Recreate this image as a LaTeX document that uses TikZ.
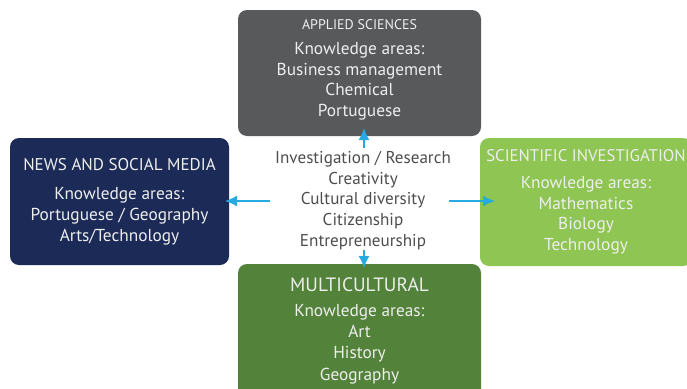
\documentclass[tikz,border=0pt]{standalone}
\usepackage{fontspec}
\setmainfont{PT Sans}
\usetikzlibrary{arrows.meta}
\definecolor{boxgray}{RGB}{88,89,91}
\definecolor{boxnavy}{RGB}{27,42,86}
\definecolor{boxlime}{RGB}{143,197,82}
\definecolor{boxgreen}{RGB}{83,130,58}
\definecolor{arrowblue}{RGB}{39,170,225}
\definecolor{hubtext}{RGB}{77,77,79}
\definecolor{boxtext}{RGB}{238,238,238}
\begin{document}
\begin{tikzpicture}
  [x=1pt,y=-1pt,
   area/.style={rectangle,rounded corners=9pt,text=boxtext,align=center,
     font=\fontsize{17.3}{20.7}\selectfont,inner sep=0pt},
   arr/.style={draw=arrowblue,line width=1.5pt,-{Latex[length=12pt,width=11pt]}}]
  \useasboundingbox (0,0) rectangle (687,388);

  \node[area,fill=boxgray,minimum width=243,minimum height=126] (applied) at (359.5,73) {};
  \node[align=center,text=boxtext,font=\fontsize{17.3}{20.7}\selectfont,inner sep=0pt] (appliedtxt) at (359.5,70)
    {{\fontsize{14}{14}\selectfont APPLIED SCIENCES}\\[4pt]Knowledge areas:\\Business management\\Chemical\\Portuguese};
  \node[area,fill=boxnavy,minimum width=219,minimum height=127] (news) at (119.5,201.5)
    {{\fontsize{17}{17}\selectfont NEWS AND SOCIAL MEDIA}\\[9pt]Knowledge areas:\\Portuguese / Geography\\Arts/Technology};
  \node[area,fill=boxlime,minimum width=212,minimum height=128] (scientific) at (586,202)
    {{\fontsize{16.8}{16.8}\selectfont SCIENTIFIC INVESTIGATION}\\[6pt]Knowledge areas:\\Mathematics\\Biology\\Technology};
  \node[area,fill=boxgreen,minimum width=243,minimum height=134,
    font=\fontsize{17.3}{21.4}\selectfont] (multi) at (359.5,331)
    {{\fontsize{19.3}{19.3}\selectfont MULTICULTURAL}\\[3pt]Knowledge areas:\\Art\\History\\Geography};

  \node[align=center,text=hubtext,font=\fontsize{17.1}{20.7}\selectfont,inner sep=3pt] (hub) at (363,200.5)
    {Investigation / Research\\Creativity\\Cultural diversity\\Citizenship\\Entrepreneurship};

  \coordinate (up) at (364,128);
  \coordinate (down) at (364,268);
  \coordinate (lft) at (225,201);
  \coordinate (rgt) at (495,201);
  \coordinate (s1) at (364,148);
  \coordinate (s2) at (364,250);
  \coordinate (s3) at (270,201);
  \coordinate (s4) at (449,201);

  \foreach \from/\to in {s1/up,s2/down,s3/lft,s4/rgt}
    \draw[arr] (\from) -- (\to);

\end{tikzpicture}
\end{document}
